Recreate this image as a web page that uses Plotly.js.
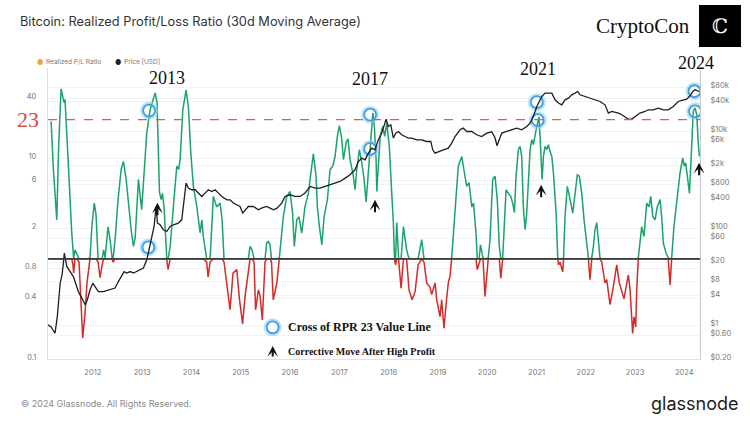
<!DOCTYPE html>
<html><head><meta charset="utf-8">
<script src="https://cdn.plot.ly/plotly-3.0.1.min.js"></script>
<style>html,body{margin:0;padding:0;background:#fff;}#chart{width:750px;height:422px;}</style>
</head><body><div id="chart"></div>
<script>
// ---- data ----
const rplYears = [
2011.154,2011.201,2011.270,2011.306,2011.357,2011.387,2011.418,2011.438,2011.458,2011.499,
2011.574,2011.600,2011.611,2011.641,2011.682,2011.722,2011.797,2011.844,2011.884,2011.945,
2011.986,2012.032,2012.067,2012.108,2012.148,2012.189,2012.219,2012.249,2012.310,2012.351,
2012.391,2012.412,2012.452,2012.513,2012.574,2012.621,2012.675,2012.722,2012.777,2012.824,
2012.858,2012.925,2012.990,2013.041,2013.095,2013.162,2013.264,2013.304,2013.351,2013.385,
2013.412,2013.446,2013.501,2013.527,2013.568,2013.635,2013.704,2013.740,2013.771,2013.826,
2013.893,2013.939,2013.988,2014.041,2014.110,2014.176,2014.211,2014.243,2014.312,2014.339,
2014.379,2014.446,2014.515,2014.582,2014.623,2014.663,2014.785,2014.846,2014.921,2014.978,
2015.039,2015.089,2015.156,2015.191,2015.231,2015.272,2015.302,2015.359,2015.394,2015.440,
2015.495,2015.529,2015.562,2015.596,2015.627,2015.663,2015.732,2015.785,2015.866,2015.935,
2016.002,2016.053,2016.089,2016.138,2016.185,2016.239,2016.306,2016.373,2016.422,2016.475,
2016.529,2016.556,2016.596,2016.645,2016.692,2016.759,2016.813,2016.868,2016.915,2016.961,
2017.002,2017.051,2017.083,2017.138,2017.178,2017.219,2017.280,2017.320,2017.355,2017.408,
2017.456,2017.503,2017.544,2017.590,2017.639,2017.680,2017.712,2017.746,2017.761,2017.793,
2017.828,2017.882,2017.923,2017.963,2018.016,2018.065,2018.097,2018.118,2018.142,2018.166,
2018.203,2018.254,2018.304,2018.365,2018.416,2018.477,2018.538,2018.598,2018.673,2018.720,
2018.775,2018.842,2018.876,2018.943,2018.978,2019.045,2019.079,2019.126,2019.176,2019.213,
2019.247,2019.282,2019.349,2019.416,2019.485,2019.531,2019.586,2019.633,2019.688,2019.724,
2019.775,2019.801,2019.836,2019.866,2019.917,2019.957,2020.024,2020.059,2020.114,2020.160,
2020.207,2020.248,2020.276,2020.316,2020.383,2020.430,2020.479,2020.519,2020.552,2020.586,
2020.633,2020.667,2020.702,2020.734,2020.769,2020.803,2020.870,2020.905,2020.937,2020.992,
2021.047,2021.073,2021.093,2021.114,2021.140,2021.174,2021.209,2021.241,2021.276,2021.310,
2021.343,2021.398,2021.432,2021.448,2021.479,2021.533,2021.550,2021.580,2021.627,2021.661,
2021.696,2021.736,2021.783,2021.830,2021.870,2021.919,2021.966,2022.020,2022.053,2022.087,
2022.122,2022.154,2022.189,2022.223,2022.256,2022.290,2022.325,2022.391,2022.426,2022.458,
2022.493,2022.548,2022.594,2022.629,2022.682,2022.730,2022.777,2022.817,2022.864,2022.899,
2022.933,2022.953,2022.980,2023.014,2023.034,2023.067,2023.136,2023.183,2023.237,2023.284,
2023.318,2023.359,2023.406,2023.452,2023.507,2023.542,2023.574,2023.629,2023.675,2023.710,
2023.744,2023.791,2023.846,2023.913,2023.968,2024.000,2024.028,2024.065,2024.105,2024.146,
2024.183,2024.217,2024.252,2024.284,2024.304];
const rplValues = [
23.6,7.8,2.45,12.3,49.8,43.6,36.3,38.9,20.9,9.8,
1.82,0.87,0.72,1.23,1.1,0.93,0.162,0.29,0.575,1.02,
2.19,3.6,2.75,0.93,0.65,0.87,1.23,1.02,2.09,1.55,
1.02,0.93,1.55,3.9,7.8,9.4,6.2,3.6,1.95,1.33,
1.62,6.2,3.1,7.2,18.2,30.9,45.4,36.3,4.6,3.9,
4.5,3.3,0.98,0.78,1.32,3.3,8.4,7.8,9.8,30.9,
48.2,33.3,11.5,5.3,3.3,1.82,2.45,1.66,0.93,0.66,
0.93,4.2,3.3,3.6,2.45,0.93,0.31,0.72,0.78,0.39,
0.224,0.42,0.71,1.33,1.23,0.93,0.31,0.49,0.43,0.245,
0.93,1.45,1.49,1.38,0.93,0.39,0.57,1.02,2.65,4.2,
4.7,2.9,1.33,2.45,2.63,1.81,3.3,4.5,6.7,11.2,
6.7,3.3,2.1,1.38,2.65,3.9,7.8,8.4,10.5,16.7,
21.4,15.5,9.8,14.4,15.8,9.8,6.9,4.9,7.8,12.3,
9.1,6.2,3.7,7.8,18.1,28.6,21,9.8,4.7,9.8,
16.7,21,16.7,22.8,13.3,4.5,2.3,1.05,0.87,2.3,
0.98,0.51,2.1,1.23,0.49,0.39,0.47,0.87,1.55,0.93,
0.575,0.52,0.44,0.575,0.39,0.265,0.39,0.203,0.39,0.575,
0.675,1.02,3.3,8.4,10.5,7.8,5.3,5.75,3.3,3.6,
1.82,0.78,0.93,1.38,1.02,0.42,1.02,1.55,6.2,6.7,
3.9,1.33,0.64,1.02,4.9,4.5,4.2,3.6,2.9,6.7,
12.3,13.3,10.5,3.3,1.95,2.86,12.3,15.5,13.8,19.5,
26.1,16.7,9.8,6.2,10.5,13.3,12.3,13.8,11.8,10.5,
7.2,2.86,1.02,0.87,0.93,0.74,1.02,2.65,5.3,4.5,
3.6,2.86,4.5,6.9,6.7,4.5,2.45,1.33,1.02,0.62,
1.02,1.33,1.95,2.3,1.55,1.02,0.93,0.575,0.62,0.46,
0.35,0.49,0.67,0.87,0.575,0.49,0.40,0.52,0.69,0.49,
0.245,0.18,0.263,0.209,0.49,1.02,2.1,1.67,3.6,3.3,
4.2,2.65,2.45,3.3,3.9,2.65,1.44,1.15,1.02,0.55,
1.02,2.1,3.9,7.2,10.2,8.4,9.1,6.9,4.5,12.3,
29.7,32.1,27.5,14.4,10.5];

const priceYears = [
2011.093,2011.154,2011.235,2011.282,2011.337,2011.377,2011.404,2011.424,2011.473,2011.540,
2011.606,2011.675,2011.708,2011.777,2011.844,2011.890,2011.945,2012.000,2012.047,2012.114,
2012.215,2012.351,2012.452,2012.519,2012.588,2012.635,2012.690,2012.757,2012.824,2012.892,
2012.959,2013.026,2013.095,2013.162,2013.243,2013.284,2013.310,2013.365,2013.432,2013.501,
2013.568,2013.635,2013.736,2013.805,2013.852,2013.893,2013.939,2014.008,2014.075,2014.142,
2014.211,2014.278,2014.345,2014.414,2014.481,2014.548,2014.617,2014.718,2014.785,2014.852,
2014.921,2014.988,2015.043,2015.089,2015.156,2015.258,2015.359,2015.434,2015.529,2015.596,
2015.663,2015.738,2015.834,2015.901,2016.002,2016.103,2016.205,2016.306,2016.408,2016.509,
2016.611,2016.712,2016.813,2016.915,2017.016,2017.118,2017.219,2017.320,2017.387,2017.456,
2017.523,2017.590,2017.659,2017.726,2017.793,2017.862,2017.909,2017.949,2017.996,2018.045,
2018.097,2018.146,2018.199,2018.268,2018.335,2018.402,2018.471,2018.572,2018.673,2018.775,
2018.856,2018.897,2018.943,2019.010,2019.112,2019.213,2019.282,2019.349,2019.450,2019.517,
2019.586,2019.688,2019.789,2019.890,2019.992,2020.093,2020.160,2020.201,2020.241,2020.296,
2020.398,2020.499,2020.600,2020.702,2020.803,2020.870,2020.937,2021.006,2021.053,2021.108,
2021.174,2021.241,2021.310,2021.377,2021.444,2021.513,2021.580,2021.647,2021.716,2021.783,
2021.838,2021.884,2021.986,2022.087,2022.189,2022.290,2022.391,2022.458,2022.527,2022.594,
2022.661,2022.730,2022.797,2022.864,2022.933,2023.000,2023.101,2023.203,2023.270,2023.371,
2023.473,2023.574,2023.675,2023.777,2023.878,2023.953,2024.049,2024.116,2024.170,2024.217,
2024.258,2024.304];
const priceValues = [
1.01,0.92,0.68,1.50,7.3,10.9,19.0,30.5,16.2,12.6,
10.0,6.2,4.9,3.65,2.62,3.3,5.3,7.3,6.3,4.9,
4.9,5.3,5.8,7.9,10.9,12.7,11.8,12.7,11.8,12.7,
13.8,15.0,22.2,45.3,108,279,127,117,92,85,
108,117,127,148,383,847,668,617,617,527,
449,527,617,568,617,527,449,383,383,328,
302,279,204,238,279,279,238,262,279,258,
238,258,328,449,486,449,449,527,721,668,
668,721,782,847,914,1074,1256,1592,2360,2774,
2560,3520,4460,4110,6620,9100,12440,17660,12440,13480,
7180,9100,9820,8400,7740,7180,7180,6620,6620,6110,
6110,4110,3520,3790,4110,4460,5660,7740,10640,11540,
9820,9820,8400,7740,9100,9680,7280,4980,6620,9100,
9820,10640,11540,10640,12440,14620,20000,32100,40800,51700,
60700,60700,60700,44200,37800,34800,44200,47900,56000,60700,
65500,56000,51700,47900,44200,40800,34800,23500,25400,24400,
23500,21700,20000,17660,17660,20000,23500,25400,27500,27500,
29800,27500,27500,32100,40800,42800,45700,53500,65500,71100,
67800,65500];

const profitThreshold = 1;      // green above, red below
const rprLevel = 24.5;          // "23" value line as drawn
const crossYears  = [2013.142, 2013.128, 2017.625, 2017.625, 2021.006, 2021.026, 2024.207, 2024.217];
const crossLevels = [30.2, 1.30, 27.5, 12.5, 36.6, 24.2, 47.1, 29.7];
const arrowYears  = [2013.310, 2017.726, 2021.094, 2024.298];
const arrowLevels = [3.63, 3.89, 5.5, 9.1];

const leftTickVals = [0.1, 0.4, 0.8, 2, 6, 10, 40];
const leftTickText = ['0.1', '0.4', '0.8', '2', '6', '10', '40'];
const priceTickVals = [0.2, 0.6, 1, 4, 8, 20, 60, 100, 400, 800, 2000, 6000, 10000, 40000, 80000];
const priceTickText = ['$0.20','$0.60','$1','$4','$8','$20','$60','$100','$400','$800','$2k','$6k','$10k','$40k','$80k'];
const yearTicks = [2012,2013,2014,2015,2016,2017,2018,2019,2020,2021,2022,2023,2024];
const cycleLabels = ['2013', '2017', '2021', '2024'];

// ---- helpers ----
function yearToDate(y){
  const yr = Math.floor(y);
  const s = Date.UTC(yr,0,1), e = Date.UTC(yr+1,0,1);
  return new Date(s + (y-yr)*(e-s)).toISOString().slice(0,10);
}
const L=48, R=700, T=68, B=359;
const px = X => (X-L)/(R-L);
const py = Y => (B-Y)/(B-T);

const rplDates = rplYears.map(yearToDate);
const priceDates = priceYears.map(yearToDate);

const GREEN = '#1ba36a', RED = '#d42a2a';

const traces = [
  {x: rplDates, y: rplValues.map(v => Math.min(v, profitThreshold)), type:'scatter', mode:'lines',
   line:{color:RED, width:1.5}, yaxis:'y', hoverinfo:'skip'},
  {x: rplDates, y: rplValues.map(v => Math.max(v, profitThreshold)), type:'scatter', mode:'lines',
   line:{color:GREEN, width:1.5}, yaxis:'y', hoverinfo:'skip'},
  {x: crossYears.map(yearToDate), y: crossLevels, type:'scatter', mode:'markers', yaxis:'y',
   marker:{symbol:'circle-open', size:14, color:'rgba(140,205,245,0.55)', line:{width:4}}},
  {x: crossYears.map(yearToDate), y: crossLevels, type:'scatter', mode:'markers', yaxis:'y',
   marker:{symbol:'circle-open', size:12, color:'#3f9fe2', line:{width:1.8}}},
  {x: priceDates, y: priceValues, type:'scatter', mode:'lines',
   line:{color:'#1e1e1e', width:1.3}, yaxis:'y2', hoverinfo:'skip'}
];

const serif = 'Liberation Serif, DejaVu Serif, serif';
const sans = 'Inter, Roboto, Open Sans, sans-serif';

const annotations = [];
function addText(text, X, Y, size, color, family, xanchor, extra){
  annotations.push(Object.assign({xref:'paper', yref:'paper', x:px(X), y:py(Y), text:text,
    showarrow:false, xanchor:xanchor||'center', yanchor:'middle',
    font:{size:size, color:color, family:family||sans}}, extra||{}));
}
// legend
addText('●', 40, 62, 7, '#f0a23a', sans);
addText('Realized P/L Ratio', 44, 62, 6.5, '#777', sans, 'left');
addText('●', 118, 62, 7, '#222', sans);
addText('Price [USD]', 122, 62, 6.5, '#777', sans, 'left');
// cycle labels
const cyclePos = [[167,78],[370,79],[538,69],[696,63]];
cycleLabels.forEach((t,i) => addText(t, cyclePos[i][0], cyclePos[i][1], 18, '#111', serif));
// branding
addText('CryptoCon', 643, 26, 21, '#111', serif);
addText('ℂ', 720, 26, 20, '#fff', serif);
addText('23', 28, 119, 22, '#e0473f', serif);
// bottom legend
addText('<b>Cross of RPR 23 Value Line</b>', 286, 327, 12, '#111', serif, 'left');
addText('<b>Corrective Move After High Profit</b>', 286, 351, 10, '#111', serif, 'left');
// footer
addText('© 2024 Glassnode. All Rights Reserved.', 19, 403, 9, '#8a8a8a', sans, 'left');
addText('glassnode', 740, 403, 18, '#1c1c1c', sans, 'right');

// arrows in chart (data coords; log axis => log10)
arrowYears.forEach((yr,i) => annotations.push({
  xref:'x', yref:'y', x: yearToDate(yr), y: Math.log10(arrowLevels[i]), text:'',
  showarrow:true, ax:0, ay:14, arrowhead:3, arrowsize:0.9, arrowwidth:2, arrowcolor:'#111', standoff:0
}));
// legend arrow
annotations.push({xref:'paper', yref:'paper', x:px(272.7), y:py(346), text:'', showarrow:true,
  ax:0, ay:12, arrowhead:3, arrowsize:0.9, arrowwidth:2, arrowcolor:'#111', standoff:0});

const shapes = [
  {type:'line', xref:'paper', x0:0, x1:1, yref:'y', y0:rprLevel, y1:rprLevel,
   line:{color:'#e05a50', width:1.2, dash:'dash'}, layer:'above'},
  {type:'line', xref:'paper', x0:0, x1:1, yref:'y', y0:profitThreshold, y1:profitThreshold,
   line:{color:'#3a3a3a', width:1.8}, layer:'above'},
  {type:'rect', xref:'paper', yref:'paper', x0:px(699), x1:px(741), y0:py(47), y1:py(5),
   fillcolor:'#000', line:{width:0}},
  {type:'circle', xref:'paper', yref:'paper', xsizemode:'pixel', ysizemode:'pixel',
   xanchor:px(272.7), yanchor:py(327.3), x0:-7, x1:7, y0:-7, y1:7,
   line:{color:'rgba(140,205,245,0.6)', width:4}},
  {type:'circle', xref:'paper', yref:'paper', xsizemode:'pixel', ysizemode:'pixel',
   xanchor:px(272.7), yanchor:py(327.3), x0:-6, x1:6, y0:-6, y1:6,
   line:{color:'#3f9fe2', width:1.8}}
];

const layout = {
  width:750, height:422,
  margin:{l:L, r:750-R, t:T, b:422-B, pad:0},
  paper_bgcolor:'#fff', plot_bgcolor:'#fff',
  showlegend:false,
  title:{text:'Bitcoin: Realized Profit/Loss Ratio (30d Moving Average)', xref:'container', yref:'container',
    x:20/750, xanchor:'left', y:1-22/422, yanchor:'middle', font:{family:sans, size:12.8, color:'#333'}},
  xaxis:{type:'date', range:[yearToDate(2011.093), yearToDate(2024.318)],
    tickvals: yearTicks.map(y => yearToDate(y)), ticktext: yearTicks.map(String),
    showgrid:false, zeroline:false, showline:true, linecolor:'#e6e1d8', linewidth:1,
    ticks:'', ticklabelstandoff:6, tickfont:{family:sans, size:7.5, color:'#777'}},
  yaxis:{type:'log', range:[-1, 1.905], tickvals:leftTickVals, ticktext:leftTickText,
    showgrid:true, gridcolor:'#f1f1f1', gridwidth:1, zeroline:false,
    showline:true, linecolor:'#f3dcb2', linewidth:1.2, ticks:'', ticklabelstandoff:9, ticklabelshift:-2,
    tickfont:{family:sans, size:7.5, color:'#777'}},
  yaxis2:{type:'log', overlaying:'y', side:'right', range:[Math.log10(0.2), Math.log10(200000)],
    tickvals:priceTickVals, ticktext:priceTickText,
    showgrid:true, gridcolor:'#f3f3f3', gridwidth:1, zeroline:false,
    showline:true, linecolor:'#c8c8c8', linewidth:1, ticks:'', ticklabelstandoff:8, ticklabelshift:-2,
    tickfont:{family:sans, size:7.5, color:'#777'}},
  annotations: annotations,
  shapes: shapes
};

Plotly.newPlot('chart', traces, layout, {displayModeBar:false, staticPlot:true});
</script>
</body></html>
